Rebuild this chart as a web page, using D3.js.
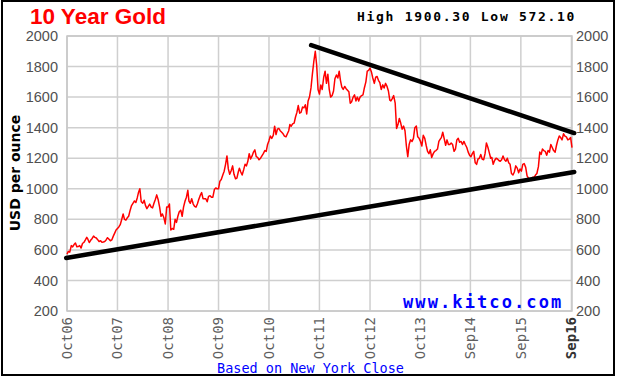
<!DOCTYPE html>
<html>
<head>
<meta charset="utf-8">
<script src="https://cdn.jsdelivr.net/npm/d3@7"></script>
<style>
  body { margin: 0; background: #fff; }
</style>
</head>
<body>
<div id="chart"></div>
<script>
// gold price, three readings a month (4th, 14th, 24th)
var gold2006 = [572.1, 590, 585, 628, 620, 635, 645, 620, 622];
var gold2007 = [628, 612, 642, 650, 665, 682, 670, 648, 663, 675, 690, 682,
                678, 667, 655, 660, 650, 652, 655, 665, 680, 670, 660, 665,
                690, 710, 730, 740, 750, 765, 800, 835, 800, 795, 810, 820];
var gold2008 = [860, 890, 905, 920, 910, 940, 975, 1000, 915, 905, 925, 890,
                870, 885, 900, 880, 875, 905, 930, 960, 930, 880, 820, 835,
                810, 770, 880, 880, 900, 730, 740, 735, 800, 780, 820, 850];
var gold2009 = [860, 820, 880, 920, 945, 990, 920, 905, 935, 900, 885, 880,
                900, 930, 955, 975, 935, 935, 935, 915, 950, 955, 945, 945,
                995, 1005, 1000, 1000, 1050, 1060, 1090, 1115, 1160, 1215, 1130, 1095];
var gold2010 = [1120, 1150, 1095, 1065, 1070, 1110, 1135, 1110, 1090, 1125, 1160, 1150,
                1180, 1230, 1195, 1215, 1240, 1255, 1210, 1205, 1190, 1200, 1215, 1230,
                1250, 1245, 1290, 1315, 1345, 1330, 1350, 1410, 1355, 1390, 1395, 1380];
var gold2011 = [1370, 1360, 1345, 1340, 1360, 1380, 1420, 1410, 1425, 1430, 1470, 1500,
                1545, 1495, 1500, 1535, 1530, 1550, 1490, 1575, 1600, 1660, 1750, 1830,
                1900.3, 1810, 1650, 1620, 1680, 1650, 1730, 1770, 1690, 1750, 1650, 1600];
var gold2012 = [1610, 1640, 1720, 1745, 1725, 1770, 1710, 1665, 1650, 1670, 1655, 1645,
                1635, 1560, 1570, 1600, 1615, 1575, 1600, 1575, 1600, 1610, 1615, 1660,
                1700, 1770, 1775, 1790, 1765, 1725, 1690, 1730, 1735, 1710, 1695, 1650];
var gold2013 = [1680, 1660, 1690, 1670, 1640, 1580, 1575, 1590, 1610, 1560, 1395, 1420,
                1460, 1430, 1390, 1410, 1380, 1280, 1210, 1290, 1320, 1310, 1330, 1400,
                1410, 1340, 1330, 1310, 1280, 1350, 1330, 1285, 1245, 1230, 1255, 1205];
var gold2014 = [1230, 1245, 1250, 1260, 1310, 1325, 1335, 1370, 1330, 1285, 1320, 1290,
                1290, 1300, 1290, 1245, 1260, 1320, 1330, 1305, 1310, 1290, 1310, 1290,
                1270, 1240, 1220, 1210, 1230, 1245, 1170, 1160, 1195, 1200, 1225, 1195];
var gold2015 = [1190, 1230, 1300, 1270, 1235, 1200, 1205, 1160, 1185, 1200, 1195, 1185,
                1180, 1190, 1215, 1190, 1180, 1200, 1170, 1160, 1100, 1090, 1110, 1150,
                1135, 1105, 1130, 1115, 1160, 1165, 1140, 1085, 1070, 1060, 1055, 1075];
var gold2016 = [1075, 1090, 1100, 1145, 1240, 1225, 1260, 1250, 1245, 1220, 1250, 1240,
                1290, 1270, 1250, 1240, 1285, 1320, 1345, 1335, 1320, 1360, 1345, 1340,
                1320, 1325, 1335, 1270];

var slotDays = [4, 14, 24];

var yTicks = [200, 400, 600, 800, 1000, 1200, 1400, 1600, 1800, 2000];
var tickDates = ["2006-10-04", "2007-10-04", "2008-10-04", "2009-10-04", "2010-10-04",
                 "2011-10-04", "2012-10-04", "2013-10-04", "2014-09-30", "2015-09-30",
                 "2016-09-30"];
var tickLabels = ["Oct06", "Oct07", "Oct08", "Oct09", "Oct10", "Oct11",
                  "Oct12", "Oct13", "Sep14", "Sep15", "Sep16"];

// hand drawn trend lines
var upperTrend = [["2011-08-05", 1940], ["2016-10-20", 1365]];
var lowerTrend = [["2006-09-28", 547], ["2016-10-20", 1110]];

var parseDate = d3.timeParse("%Y-%m-%d");

function buildSeries() {
  var years = [[2006, 9, gold2006], [2007, 0, gold2007], [2008, 0, gold2008],
               [2009, 0, gold2009], [2010, 0, gold2010], [2011, 0, gold2011],
               [2012, 0, gold2012], [2013, 0, gold2013], [2014, 0, gold2014],
               [2015, 0, gold2015], [2016, 0, gold2016]];
  var series = [];
  years.forEach(function(y) {
    y[2].forEach(function(v, i) {
      var month = y[1] + Math.floor(i / 3);
      series.push({ date: new Date(y[0], month, slotDays[i % 3]), value: v });
    });
  });
  return series;
}

function makeChart() {
  var width = 619, height = 380;
  var left = 67, right = 572, top = 36, bottom = 311;
  var series = buildSeries();

  var svg = d3.select("#chart").append("svg")
      .attr("width", width)
      .attr("height", height);

  svg.append("rect")
    .attr("x", 2).attr("y", 1)
    .attr("width", 612).attr("height", 374)
    .style("fill", "#fff")
    .style("stroke", "#000")
    .style("stroke-width", 2);

  var x = d3.scaleTime()
      .domain([new Date(2006, 9, 4), new Date(2016, 9, 4)])
      .range([left, right]);
  var y = d3.scaleLinear()
      .domain([200, 2000])
      .range([bottom, top]);

  var grid = svg.append("g").attr("class", "grid");

  grid.selectAll(".hgrid").data(yTicks).enter()
    .append("line")
    .attr("x1", left).attr("x2", right)
    .attr("y1", function(d) { return y(d); })
    .attr("y2", function(d) { return y(d); })
    .style("stroke", "#cfcfcf")
    .style("stroke-width", 1.5);

  grid.selectAll(".vgrid").data(tickDates).enter()
    .append("line")
    .attr("x1", function(d) { return x(parseDate(d)); })
    .attr("x2", function(d) { return x(parseDate(d)); })
    .attr("y1", top).attr("y2", bottom)
    .style("stroke", "#cfcfcf")
    .style("stroke-width", 1.5);

  svg.append("rect")
    .attr("x", left).attr("y", top)
    .attr("width", right - left).attr("height", bottom - top)
    .style("fill", "none")
    .style("stroke", "#c8c8c8")
    .style("stroke-width", 1.5);

  // kitco mark sits on the grid
  svg.append("text")
    .attr("x", 403).attr("y", 308)
    .style("font-family", "'DejaVu Sans Mono', monospace")
    .style("font-weight", "bold")
    .style("font-size", "17px")
    .style("letter-spacing", "2.1px")
    .style("fill", "#0000ff")
    .text("www.kitco.com");

  var line = d3.line()
      .x(function(d) { return x(d.date); })
      .y(function(d) { return y(d.value); });

  svg.append("path")
    .datum(series)
    .attr("d", line)
    .style("fill", "none")
    .style("stroke", "#ff0000")
    .style("stroke-width", 1.5)
    .style("stroke-linejoin", "round");

  var trend = d3.line()
      .x(function(d) { return x(parseDate(d[0])); })
      .y(function(d) { return y(d[1]); });

  svg.selectAll(".trend").data([upperTrend, lowerTrend]).enter()
    .append("path")
    .attr("class", "trend")
    .attr("d", trend)
    .style("fill", "none")
    .style("stroke", "#000")
    .style("stroke-width", 4.5)
    .style("stroke-linecap", "round");

  // y labels, both sides
  var yAxisLeft = d3.axisLeft(y).tickValues(yTicks).tickFormat(d3.format("d"))
      .tickSize(0).tickPadding(8);
  var yAxisRight = d3.axisRight(y).tickValues(yTicks).tickFormat(d3.format("d"))
      .tickSize(0).tickPadding(3);

  var gl = svg.append("g").attr("transform", "translate(" + (left - 1) + ",0)").call(yAxisLeft);
  var gr = svg.append("g").attr("transform", "translate(" + (right + 1) + ",0)").call(yAxisRight);
  [gl, gr].forEach(function(g) {
    g.select(".domain").remove();
    g.selectAll("text")
      .style("font-family", "'Liberation Sans', Arial, sans-serif")
      .style("font-size", "14.5px")
      .style("fill", "#505050");
  });

  // x labels, rotated
  svg.selectAll(".xlabel").data(tickDates).enter()
    .append("text")
    .attr("class", "xlabel")
    .attr("transform", function(d) {
      return "translate(" + x(parseDate(d)) + ",317) rotate(-90)";
    })
    .attr("dy", "0.35em")
    .attr("text-anchor", "end")
    .style("font-family", "'DejaVu Sans Mono', monospace")
    .style("font-size", "14px")
    .style("font-weight", function(d, i) { return i == tickLabels.length - 1 ? "bold" : "normal"; })
    .style("fill", function(d, i) { return i == tickLabels.length - 1 ? "#333" : "#606060"; })
    .text(function(d, i) { return tickLabels[i]; });

  svg.append("text")
    .attr("transform", "translate(15,173) rotate(-90)")
    .attr("dy", "0.35em")
    .attr("text-anchor", "middle")
    .style("font-family", "'DejaVu Sans', sans-serif")
    .style("font-weight", "bold")
    .style("font-size", "14px")
    .style("fill", "#000")
    .text("USD per ounce");

  svg.append("text")
    .attr("x", 30).attr("y", 24)
    .style("font-family", "'Liberation Sans', Arial, sans-serif")
    .style("font-weight", "bold")
    .style("font-size", "22.5px")
    .style("fill", "#ff0000")
    .text("10 Year Gold");

  var hi = d3.max(series, function(d) { return d.value; });
  var lo = d3.min(series, function(d) { return d.value; });
  var fmt = d3.format(".2f");

  svg.append("text")
    .attr("x", 357).attr("y", 21)
    .style("font-family", "'DejaVu Sans Mono', monospace")
    .style("font-weight", "bold")
    .style("font-size", "13px")
    .style("letter-spacing", "1.7px")
    .style("fill", "#000")
    .text("High " + fmt(hi) + " Low " + fmt(lo));

  svg.append("text")
    .attr("x", 217).attr("y", 373)
    .style("font-family", "'DejaVu Sans Mono', monospace")
    .style("font-size", "13.5px")
    .style("fill", "#0000ff")
    .text("Based on New York Close");
}

makeChart();
</script>
</body>
</html>
